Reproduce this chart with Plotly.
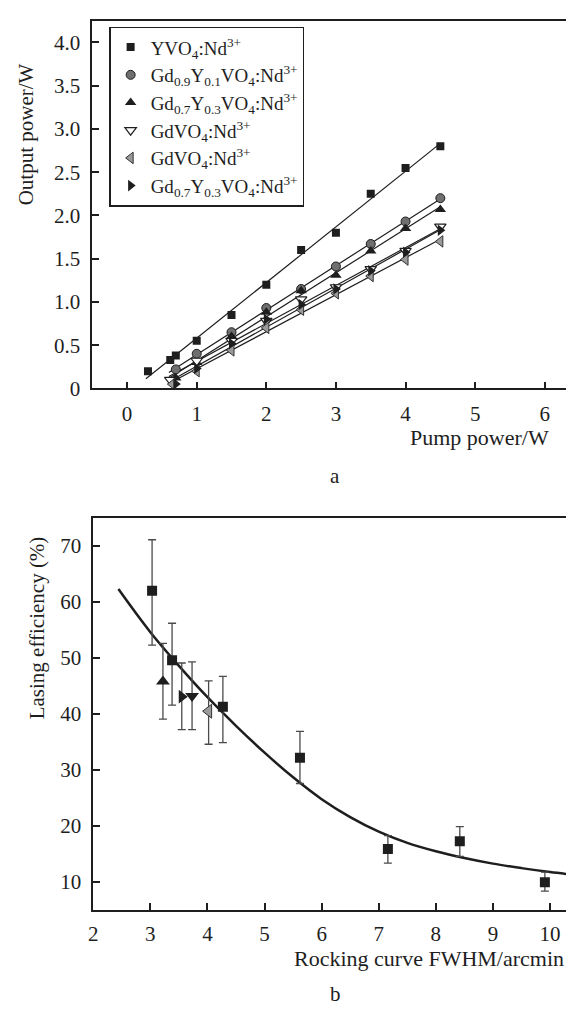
import numpy as np
import plotly.graph_objects as go

# ---- panel a: output power vs pump power ----
yvo_x = [0.3, 0.62, 0.7, 1.0, 1.5, 2.0, 2.5, 3.0, 3.5, 4.0, 4.5]
yvo_y = [0.2, 0.33, 0.38, 0.55, 0.85, 1.2, 1.6, 1.8, 2.25, 2.55, 2.8]

gd09_x = [0.7, 1.0, 1.5, 2.0, 2.5, 3.0, 3.5, 4.0, 4.5]
gd09_y = [0.22, 0.4, 0.65, 0.93, 1.15, 1.41, 1.67, 1.93, 2.2]

gd07_x = [0.7, 1.0, 1.5, 2.0, 2.5, 3.0, 3.5, 4.0, 4.5]
gd07_y = [0.12, 0.3, 0.6, 0.88, 1.13, 1.31, 1.59, 1.85, 2.07]

gdvo_x = [0.62, 1.0, 1.5, 2.0, 2.5, 3.0, 3.5, 4.0, 4.5]
gdvo_y = [0.1, 0.32, 0.55, 0.78, 1.03, 1.17, 1.38, 1.59, 1.87]

gdvo2_x = [0.65, 1.0, 1.5, 2.0, 2.5, 3.0, 3.5, 4.0, 4.5]
gdvo2_y = [0.05, 0.2, 0.44, 0.7, 0.91, 1.1, 1.3, 1.49, 1.7]

gd07b_x = [0.7, 1.0, 1.5, 2.0, 2.5, 3.0, 3.5, 4.0, 4.5]
gd07b_y = [0.05, 0.23, 0.52, 0.8, 0.97, 1.15, 1.36, 1.575, 1.83]

# where each fitted line starts
fit_start = [0.27, 0.6, 0.6, 0.6, 0.6, 0.6]
fit_end = 4.5

names = [
    "YVO<sub>4</sub>:Nd<sup>3+</sup>",
    "Gd<sub>0.9</sub>Y<sub>0.1</sub>VO<sub>4</sub>:Nd<sup>3+</sup>",
    "Gd<sub>0.7</sub>Y<sub>0.3</sub>VO<sub>4</sub>:Nd<sup>3+</sup>",
    "GdVO<sub>4</sub>:Nd<sup>3+</sup>",
    "GdVO<sub>4</sub>:Nd<sup>3+</sup>",
    "Gd<sub>0.7</sub>Y<sub>0.3</sub>VO<sub>4</sub>:Nd<sup>3+</sup>",
]

# ---- panel b: lasing efficiency vs rocking curve FWHM ----
sq_x = [3.03, 3.38, 4.27, 5.62, 7.16, 8.42, 9.91]
sq_y = [62.0, 49.6, 41.3, 32.2, 15.9, 17.3, 10.0]
sq_hi = [71.1, 56.2, 46.7, 36.9, 18.3, 19.9, 11.8]
sq_lo = [52.3, 41.6, 34.9, 27.6, 13.4, 14.6, 8.4]

tri_x = [3.22, 3.55, 3.73, 4.02]          # up, right, down, left
tri_y = [45.8, 43.1, 43.2, 40.5]
tri_hi = [52.6, 49.1, 49.3, 45.9]
tri_lo = [39.1, 37.2, 37.2, 34.6]

curve_x = [2.44, 3.0, 3.5, 4.0, 4.5, 5.0, 5.5, 6.0, 6.5, 7.0, 7.5, 8.0,
           8.5, 9.0, 9.5, 10.0, 10.42]
curve_y = [62.3, 54.6, 48.6, 43.0, 37.9, 33.1, 28.7, 24.8, 21.6, 19.0, 17.0,
           15.5, 14.3, 13.3, 12.5, 11.8, 11.3]

# the page shows the figure 8px in from the left edge
OFFX, OFFY = 8, 0
W, H = 574 - OFFX, 1010 - OFFY
FONT = "Liberation Serif"
INK = "#1e1e1e"


def px(x):
    return (x - OFFX) / W


def py(y):
    return 1 - (y - OFFY) / H


styles = [
    dict(symbol="square", size=8, color=INK, line=dict(width=0)),
    dict(symbol="circle", size=9, color="#6f6f6f", line=dict(color=INK, width=1)),
    dict(symbol="triangle-up", size=10, color=INK, line=dict(width=0)),
    dict(symbol="triangle-down", size=10, color="white", line=dict(color=INK, width=1.2)),
    dict(symbol="triangle-left", size=10, color="#9a9a9a", line=dict(color="#333", width=1)),
    dict(symbol="triangle-right", size=10, color=INK, line=dict(width=0)),
]

series_a = [(yvo_x, yvo_y), (gd09_x, gd09_y), (gd07_x, gd07_y),
            (gdvo_x, gdvo_y), (gdvo2_x, gdvo2_y), (gd07b_x, gd07b_y)]

fig = go.Figure()

# fitted lines first so markers sit on top
for (xs, ys), x0 in zip(series_a, fit_start):
    k, b = np.polyfit(xs, ys, 1)
    lx = np.array([x0, fit_end])
    fig.add_trace(go.Scatter(x=lx, y=k * lx + b, mode="lines",
                             line=dict(color=INK, width=1.2),
                             showlegend=False, hoverinfo="skip",
                             xaxis="x", yaxis="y"))

for (xs, ys), name, st in zip(series_a, names, styles):
    fig.add_trace(go.Scatter(x=xs, y=ys, mode="markers", name=name,
                             marker=st, xaxis="x", yaxis="y"))

# panel b
fig.add_trace(go.Scatter(x=curve_x, y=curve_y, mode="lines",
                         line=dict(color=INK, width=2.5, shape="spline", smoothing=1.0),
                         showlegend=False, xaxis="x2", yaxis="y2"))

err_style = dict(type="data", symmetric=False, color="#4a4a4a",
                 thickness=1.3, width=4)

fig.add_trace(go.Scatter(
    x=sq_x, y=sq_y, mode="markers", showlegend=False,
    marker=dict(symbol="square", size=10, color=INK),
    error_y=dict(array=[h - v for h, v in zip(sq_hi, sq_y)],
                 arrayminus=[v - l for l, v in zip(sq_lo, sq_y)], **err_style),
    xaxis="x2", yaxis="y2"))

tri_styles = [
    dict(symbol="triangle-up", size=12, color=INK),
    dict(symbol="triangle-right", size=12, color=INK),
    dict(symbol="triangle-down", size=12, color=INK),
    dict(symbol="triangle-left", size=12, color="#9a9a9a", line=dict(color="#333", width=1)),
]
for i, st in enumerate(tri_styles):
    fig.add_trace(go.Scatter(
        x=[tri_x[i]], y=[tri_y[i]], mode="markers", showlegend=False,
        marker=st,
        error_y=dict(array=[tri_hi[i] - tri_y[i]],
                     arrayminus=[tri_y[i] - tri_lo[i]], **err_style),
        xaxis="x2", yaxis="y2"))

axis_common = dict(showline=True, linecolor=INK, linewidth=1.5,
                   ticks="inside", ticklen=7, tickwidth=1.5, tickcolor=INK,
                   showgrid=False, zeroline=False,
                   tickfont=dict(family=FONT, size=21, color=INK))

ya_vals = [0, 0.5, 1.0, 1.5, 2.0, 2.5, 3.0, 3.5, 4.0]
ya_text = ["0", "0.5", "1.0", "1.5", "2.0", "2.5", "3.0", "3.5", "4.0"]

fig.update_layout(
    width=W, height=H,
    margin=dict(l=0, r=0, t=0, b=0),
    paper_bgcolor="white", plot_bgcolor="white",
    font=dict(family=FONT, size=21, color=INK),
    xaxis=dict(domain=[px(88), 1], range=[-0.5, 6.42], mirror=True,
               tickvals=list(range(7)), anchor="y", ticklabelstandoff=6,
               **axis_common),
    yaxis=dict(domain=[py(385), py(13)], range=[0, 4.25],
               tickvals=ya_vals, ticktext=ya_text, anchor="x",
               ticklabelstandoff=6, **axis_common),
    xaxis2=dict(domain=[px(89), 1], range=[2, 10.42], mirror=True,
                tickvals=list(range(2, 11)), anchor="y2", ticklabelstandoff=4,
                **axis_common),
    yaxis2=dict(domain=[py(913), py(516)], range=[5, 75],
                tickvals=list(range(10, 80, 10)), anchor="x2",
                ticklabelstandoff=6, **axis_common),
    legend=dict(x=px(105), y=py(19), xanchor="left", yanchor="top",
                bgcolor="white", bordercolor=INK, borderwidth=1.5,
                font=dict(family=FONT, size=19, color=INK),
                tracegroupgap=0),
    showlegend=True,
)

labels = [
    dict(text="Output power/W", x=22, y=128, textangle=-90, size=21),
    dict(text="Pump power/W", x=551, y=435, xanchor="right", size=22),
    dict(text="a", x=333, y=474, size=21),
    dict(text="Lasing efficiency (%)", x=32, y=627, textangle=-90, size=21),
    dict(text="Rocking curve FWHM/arcmin", x=566, y=962, xanchor="right", size=22),
    dict(text="b", x=333, y=998, size=21),
]
for lb in labels:
    fig.add_annotation(text=lb["text"], x=px(lb["x"]), y=py(lb["y"]),
                       xref="paper", yref="paper", showarrow=False,
                       xanchor=lb.get("xanchor", "center"), yanchor="middle",
                       textangle=lb.get("textangle", 0),
                       font=dict(family=FONT, size=lb["size"], color=INK))

fig.write_html("out.html")
